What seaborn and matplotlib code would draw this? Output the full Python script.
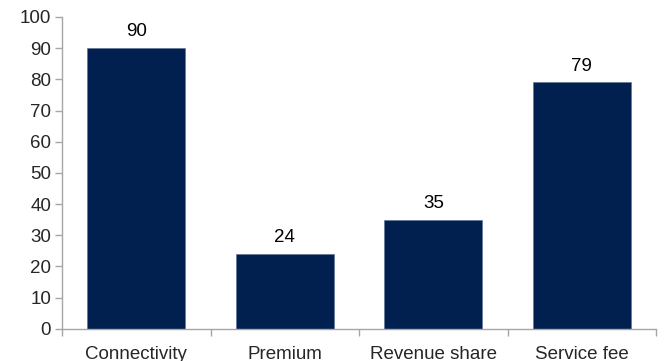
import matplotlib
matplotlib.use("Agg")
import matplotlib.pyplot as plt
import seaborn as sns
import pandas as pd

categories = ["Connectivity", "Premium", "Revenue share", "Service fee"]
values = [90, 24, 35, 79]
y_ticks = list(range(0, 101, 10))

sns.set_theme(style="white")
plt.rcParams["font.family"] = ["Liberation Sans", "DejaVu Sans"]

df = pd.DataFrame({"category": categories, "value": values})

fig = plt.figure(figsize=(6.68, 3.61), dpi=100)
ax = fig.add_axes([0.093, 0.089, 0.889, 0.864])

bar_color = "#012050"
sns.barplot(data=df, x="category", y="value", color=bar_color, saturation=1,
            width=0.66, ax=ax, edgecolor="#5a6e90", linewidth=0.4)

for i, v in enumerate(values):
    ax.text(i, v + 2.5, f"{v}", ha="center", va="bottom", fontsize=13.5, color="black")

ax.set_ylim(0, 100)
ax.set_xlim(-0.5, len(categories) - 0.5)
ax.set_yticks(y_ticks)
ax.set_yticklabels([str(t) for t in y_ticks], fontsize=13.5)
ax.set_xlabel("")
ax.set_ylabel("")

# category labels centred under bars, tick marks at category boundaries
ax.set_xticks(range(len(categories)))
ax.set_xticklabels(categories, fontsize=13.5)
ax.tick_params(axis="x", which="major", bottom=True, length=0, pad=12)
ax.set_xticks([i - 0.5 for i in range(len(categories) + 1)], minor=True)
ax.tick_params(axis="x", which="minor", bottom=True, length=5, width=1,
               color="#a6a6a6", direction="out")
ax.tick_params(axis="y", left=True, length=5, width=1, color="#a6a6a6",
               direction="out", pad=3)

for side in ["top", "right"]:
    ax.spines[side].set_visible(False)
for side in ["left", "bottom"]:
    ax.spines[side].set_color("#a6a6a6")
    ax.spines[side].set_linewidth(1)

fig.savefig("out.png", dpi=100)
